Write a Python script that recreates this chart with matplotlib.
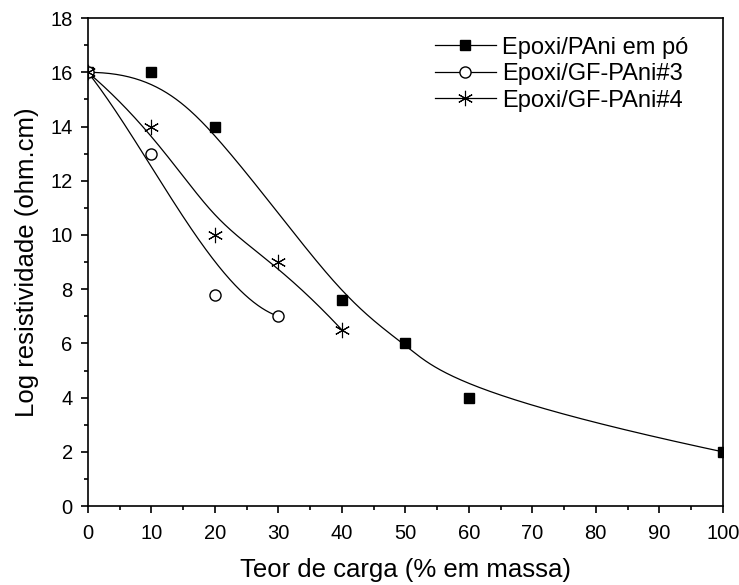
import numpy as np
import matplotlib
matplotlib.use("Agg")
import matplotlib.pyplot as plt
from matplotlib.ticker import MultipleLocator

plt.rcParams['font.family'] = ['Liberation Sans', 'DejaVu Sans']

# teor de carga (% em massa) x log resistividade
x_pani = [0, 10, 20, 40, 50, 60, 100]
y_pani = [16, 16, 14, 7.6, 6, 4, 2]

x_gf3 = [0, 10, 20, 30]
y_gf3 = [16, 13, 7.8, 7]

x_gf4 = [0, 10, 20, 30, 40]
y_gf4 = [16, 14, 10, 9, 6.5]

labels = ['Epoxi/PAni em pó', 'Epoxi/GF-PAni#3', 'Epoxi/GF-PAni#4']


def bspline(xs, ys, k=3, n=300):
    # B-spline aberta (pontos como pontos de controle, extremos fixos)
    P = np.column_stack([xs, ys]).astype(float)
    m = len(P)
    k = min(k, m - 1)
    inner = np.linspace(0, 1, m - k + 1)
    knots = np.concatenate([np.zeros(k), inner, np.ones(k)])
    ts = np.linspace(0, 1, n)
    out = []
    for t in ts:
        # de Boor
        if t >= 1:
            out.append(P[-1])
            continue
        s = np.searchsorted(knots, t, side='right') - 1
        d = [P[j + s - k].copy() for j in range(k + 1)]
        for r in range(1, k + 1):
            for j in range(k, r - 1, -1):
                i = j + s - k
                a = (t - knots[i]) / (knots[i + 1 + k - r] - knots[i])
                d[j] = (1 - a) * d[j - 1] + a * d[j]
        out.append(d[k])
    out = np.array(out)
    return out[:, 0], out[:, 1]


fig = plt.figure(figsize=(7.39, 5.85), dpi=100)
ax = fig.add_axes([0.119, 0.135, 0.859, 0.834])

series = [
    (x_pani, y_pani, dict(marker='s', color='black', ms=7, mfc='black')),
    (x_gf3, y_gf3, dict(marker='o', color='black', ms=8, mfc='white')),
    (x_gf4, y_gf4, dict(marker=(6, 2, 0), color='black', ms=11, mfc='black', mew=0.8)),
]

for (xs, ys, st), lab in zip(series, labels):
    cx, cy = bspline(xs, ys)
    ax.plot(cx, cy, color='black', lw=0.9, zorder=2)
    ax.plot(xs, ys, ls='none', zorder=3, **st)
    ax.plot([], [], lw=0.9, label=lab, **st)

ax.set_xlim(0, 100)
ax.set_ylim(0, 18)
ax.xaxis.set_major_locator(MultipleLocator(10))
ax.xaxis.set_minor_locator(MultipleLocator(5))
ax.yaxis.set_major_locator(MultipleLocator(2))
ax.yaxis.set_minor_locator(MultipleLocator(1))
ax.tick_params(which='major', direction='out', length=5, width=1.2, labelsize=14.5)
ax.tick_params(which='minor', direction='out', length=3, width=1.2)
ax.tick_params(axis='x', which='major', pad=8)
ax.tick_params(axis='y', which='major', pad=6)
for sp in ax.spines.values():
    sp.set_linewidth(1.2)

ax.set_xlabel('Teor de carga (% em massa)', fontsize=18.5, labelpad=11)
ax.set_ylabel('Log resistividade (ohm.cm)', fontsize=18.5, labelpad=8)

ax.legend(loc='upper left', frameon=False, fontsize=17, handlelength=2.6,
          labelspacing=0.19, handletextpad=0.25, borderaxespad=0, borderpad=0,
          bbox_to_anchor=(0.546, 0.962))

fig.savefig('out.png', dpi=100)
